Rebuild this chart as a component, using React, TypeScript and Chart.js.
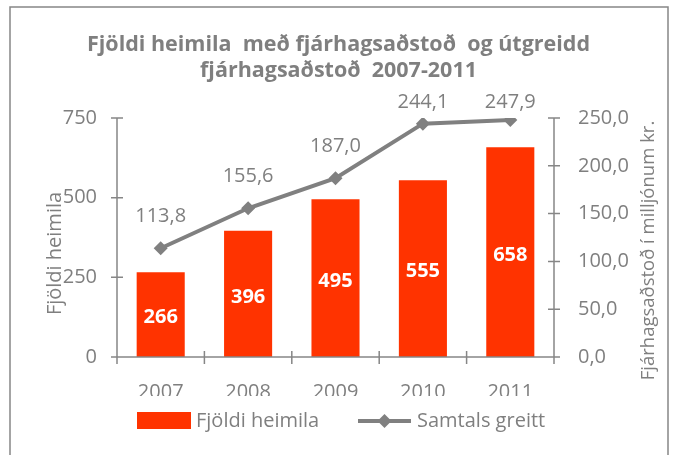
import React, { useEffect, useRef } from "react";
import { Chart, registerables } from "chart.js";
Chart.register(...registerables);

const categories = ["2007", "2008", "2009", "2010", "2011"];
const households = [266, 396, 495, 555, 658];
const paidMillions = [113.8, 155.6, 187.0, 244.1, 247.9];
const leftTicks = [0, 250, 500, 750];
const rightTicks = [0, 50, 100, 150, 200, 250];
const titleLines = ["Fjöldi heimila  með fjárhagsaðstoð  og útgreidd", "fjárhagsaðstoð  2007-2011"];
const seriesNames = ["Fjöldi heimila", "Samtals greitt"];
const leftAxisTitle = "Fjöldi heimila";
const rightAxisTitle = "Fjárhagsaðstoð í milljónum kr.";

const FONT = "'Open Sans', Lato, sans-serif";
const GRAY = "#7f7f7f";
const AXIS = "#868686";
const BAR = "#ff3300";
const LINE = "#808080";

const fmt1 = (v: number) => v.toFixed(1).replace(".", ",");

function diamond(ctx: CanvasRenderingContext2D, x: number, y: number, r: number) {
  ctx.beginPath();
  ctx.moveTo(x, y - r);
  ctx.lineTo(x + r, y);
  ctx.lineTo(x, y + r);
  ctx.lineTo(x - r, y);
  ctx.closePath();
  ctx.fill();
}

const decor = {
  id: "decor",
  afterDraw(chart: any) {
    const { ctx, chartArea: ca, scales } = chart;
    const W = chart.width;
    const xs = scales.x, ys = scales.y, y1 = scales.y1;
    ctx.save();

    // hide lower part of category labels (clipped as in the original)
    ctx.fillStyle = "#ffffff";
    ctx.fillRect(ca.left - 30, ca.bottom + 39, ca.right - ca.left + 60, 12);

    // outer frame
    ctx.strokeStyle = AXIS;
    ctx.lineWidth = 1.5;
    ctx.beginPath();
    ctx.moveTo(10, chart.height + 5);
    ctx.lineTo(10, 7);
    ctx.lineTo(W - 5, 7);
    ctx.lineTo(W - 5, chart.height + 5);
    ctx.stroke();

    // axes with cross tick marks
    ctx.strokeStyle = AXIS;
    ctx.lineWidth = 1.5;
    ctx.beginPath();
    ctx.moveTo(ca.left, ca.top);
    ctx.lineTo(ca.left, ca.bottom);
    ctx.moveTo(ca.right, ca.top);
    ctx.lineTo(ca.right, ca.bottom);
    ctx.moveTo(ca.left - 6, ca.bottom);
    ctx.lineTo(ca.right + 6, ca.bottom);
    leftTicks.forEach((v) => {
      const py = ys.getPixelForValue(v);
      ctx.moveTo(ca.left - 6, py);
      ctx.lineTo(ca.left + 6, py);
    });
    rightTicks.forEach((v) => {
      const py = y1.getPixelForValue(v);
      ctx.moveTo(ca.right - 6, py);
      ctx.lineTo(ca.right + 6, py);
    });
    const step = xs.getPixelForValue(1) - xs.getPixelForValue(0);
    for (let i = 0; i <= categories.length; i++) {
      const px = xs.getPixelForValue(0) - step / 2 + i * step;
      ctx.moveTo(px, ca.bottom - 6);
      ctx.lineTo(px, ca.bottom + 7);
    }
    ctx.stroke();

    // bar value labels
    const barMeta = chart.getDatasetMeta(0);
    ctx.fillStyle = "#ffffff";
    ctx.font = `bold 20px ${FONT}`;
    ctx.textAlign = "center";
    ctx.textBaseline = "middle";
    barMeta.data.forEach((el: any, i: number) => {
      ctx.fillText(String(households[i]), el.x, (el.y + el.base) / 2 + 3);
    });

    // line value labels
    const lineMeta = chart.getDatasetMeta(1);
    ctx.fillStyle = GRAY;
    ctx.font = `20px ${FONT}`;
    lineMeta.data.forEach((el: any, i: number) => {
      const ly = Math.max(el.y - 32, ca.top - 16);
      ctx.fillText(fmt1(paidMillions[i]), el.x, ly);
    });

    // title
    ctx.font = `bold 21.5px ${FONT}`;
    ctx.textBaseline = "alphabetic";
    ctx.fillStyle = GRAY;
    ctx.fillText(titleLines[0], W / 2 + 2, 51);
    ctx.fillText(titleLines[1], W / 2 + 2, 77);

    // axis titles
    ctx.font = `20px ${FONT}`;
    ctx.textBaseline = "middle";
    ctx.save();
    ctx.translate(55, (ca.top + ca.bottom) / 2 + 16);
    ctx.rotate(-Math.PI / 2);
    ctx.fillText(leftAxisTitle, 0, 0);
    ctx.restore();
    ctx.font = `18.5px ${FONT}`;
    ctx.save();
    ctx.translate(W - 24, (ca.top + ca.bottom) / 2 + 13);
    ctx.rotate(-Math.PI / 2);
    ctx.fillText(rightAxisTitle, 0, 0);
    ctx.restore();

    // legend
    ctx.font = `20px ${FONT}`;
    const ly = 421;
    ctx.fillStyle = BAR;
    ctx.fillRect(137, ly - 9, 54, 17);
    ctx.fillStyle = GRAY;
    ctx.textAlign = "left";
    ctx.fillText(seriesNames[0], 196, ly);
    ctx.strokeStyle = LINE;
    ctx.lineWidth = 4;
    ctx.beginPath();
    ctx.moveTo(358, ly);
    ctx.lineTo(411, ly);
    ctx.stroke();
    ctx.fillStyle = LINE;
    diamond(ctx, 384.5, ly, 7);
    ctx.fillStyle = GRAY;
    ctx.fillText(seriesNames[1], 417, ly);

    ctx.restore();
  },
};

export default function App() {
  const ref = useRef<HTMLCanvasElement>(null);
  useEffect(() => {
    if (!ref.current) return;
    const chart = new Chart(ref.current, {
      type: "bar",
      data: {
        labels: categories,
        datasets: [
          {
            type: "bar",
            label: seriesNames[0],
            data: households,
            backgroundColor: BAR,
            barPercentage: 0.55,
            categoryPercentage: 1,
            yAxisID: "y",
            order: 1,
          },
          {
            type: "line",
            label: seriesNames[1],
            data: paidMillions,
            borderColor: LINE,
            borderWidth: 4,
            backgroundColor: LINE,
            pointStyle: "rectRot",
            pointRadius: 7,
            pointBorderWidth: 0,
            pointBackgroundColor: LINE,
            tension: 0,
            yAxisID: "y1",
            order: 0,
          },
        ],
      },
      options: {
        responsive: false,
        animation: false,
        layout: { padding: { top: 118, left: 0, right: 0, bottom: 0 } },
        plugins: { legend: { display: false }, title: { display: false }, tooltip: { enabled: false } },
        scales: {
          x: {
            grid: { display: false, drawTicks: false },
            border: { display: false },
            ticks: { color: GRAY, font: { family: FONT, size: 20 }, padding: 23 },
            afterFit: (s: any) => { s.height = 98; },
          },
          y: {
            position: "left",
            min: leftTicks[0],
            max: leftTicks[leftTicks.length - 1],
            afterBuildTicks: (s: any) => { s.ticks = leftTicks.map((v) => ({ value: v })); },
            grid: { display: false, drawTicks: false },
            border: { display: false },
            ticks: { color: GRAY, font: { family: FONT, size: 20 }, padding: 20 },
            afterFit: (s: any) => { s.width = 117; },
          },
          y1: {
            position: "right",
            min: rightTicks[0],
            max: rightTicks[rightTicks.length - 1],
            afterBuildTicks: (s: any) => { s.ticks = rightTicks.map((v) => ({ value: v })); },
            grid: { display: false, drawTicks: false },
            border: { display: false },
            ticks: {
              color: GRAY,
              font: { family: FONT, size: 20 },
              padding: 24,
              callback: (v: any) => fmt1(Number(v)),
            },
            afterFit: (s: any) => { s.width = 119; },
          },
        },
      },
      plugins: [decor],
    });
    return () => chart.destroy();
  }, []);
  return (
    <div style={{ position: "fixed", left: 0, top: 0, width: 673, height: 455, background: "#fff" }}>
      <canvas ref={ref} width={673} height={455} style={{ display: "block" }} />
    </div>
  );
}
